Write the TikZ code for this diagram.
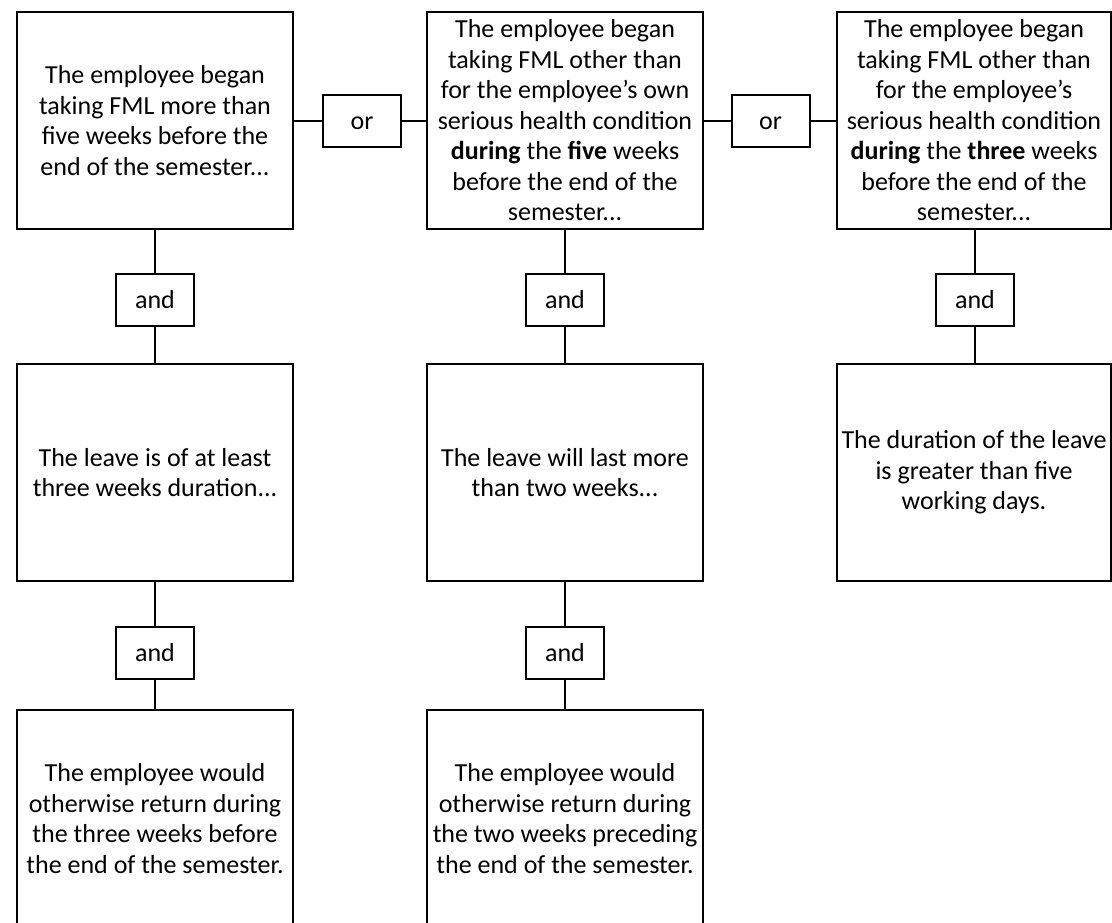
\documentclass[tikz,border=0pt]{standalone}
\usepackage{fontspec}
\setmainfont{Carlito}
\usetikzlibrary{positioning}
\tikzset{
    leavechart/.style={x=0.5pt, y=-0.5pt, line width=1pt, font={\fontsize{13}{15.25}\selectfont}},
    block/.style={draw, minimum width=138pt, minimum height=108.5pt, align=center, inner sep=1pt},
    gate/.style={draw, minimum width=39pt, minimum height=26pt, inner sep=0pt, text height=9.2pt, text depth=0.2pt},
    % the right column is cut a little by the page edge
    narrow/.style={minimum width=137pt},
}

\begin{document}
\begin{tikzpicture}[leavechart]
    \useasboundingbox (0,0) rectangle (1112,922);
    \clip (0,0) rectangle (1112,922);

    \node[block]         (early)  at (155,120.5) {The employee began\\taking FML more than\\five weeks before the\\end of the semester...};
    \node[block]         (five)   at (565,120.5) {The employee began\\taking FML other than\\for the employee’s own\\serious health condition\\\textbf{during} the \textbf{five} weeks\\before the end of the\\semester...};
    \node[block, narrow] (three)  at (974,120.5) {The employee began\\taking FML other than\\for the employee’s\\serious health condition\\\textbf{during} the \textbf{three} weeks\\before the end of the\\semester...};

    \node[gate] (or1) at (362,120.5) {or};
    \node[gate] (or2) at (770.5,120.5) {or};

    \node[gate] (and1) at (155,299.5) {and};
    \node[gate] (and2) at (565,299.5) {and};
    \node[gate] (and3) at (975,299.5) {and};

    \node[block]         (long)   at (155,472.5) {The leave is of at least\\three weeks duration...};
    \node[block]         (twowk)  at (565,472.5) {The leave will last more\\than two weeks...};
    \node[block, narrow] (days)   at (974,472.5) {The duration of the leave\\is greater than five\\working days.};

    \node[gate] (and4) at (155,652.5) {and};
    \node[gate] (and5) at (565,652.5) {and};

    \node[block] (ret3) at (155,818.5) {The employee would\\otherwise return during\\the three weeks before\\the end of the semester.};
    \node[block] (ret2) at (565,818.5) {The employee would\\otherwise return during\\the two weeks preceding\\the end of the semester.};

    \draw (early) -- (or1);
    \draw (or1) -- (five);
    \draw (five) -- (or2);
    \draw (or2) -- (three);

    \draw (early) -- (and1);
    \draw (and1) -- (long);
    \draw (five) -- (and2);
    \draw (and2) -- (twowk);
    \draw (three.south -| and3) -- (and3);
    \draw (and3) -- (days.north -| and3);

    \draw (long) -- (and4);
    \draw (and4) -- (ret3);
    \draw (twowk) -- (and5);
    \draw (and5) -- (ret2);
\end{tikzpicture}
\end{document}
